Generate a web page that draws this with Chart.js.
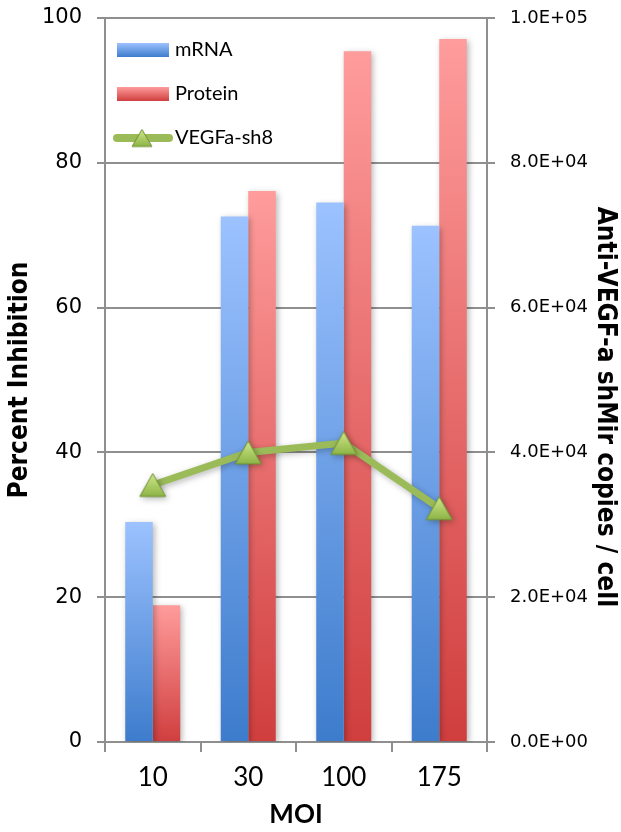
<!DOCTYPE html>
<html>
<head>
<meta charset="utf-8">
<script src="https://cdn.jsdelivr.net/npm/chart.js@4.4.1/dist/chart.umd.min.js"></script>
<style>
  html, body { margin: 0; padding: 0; background: #ffffff; }
  #wrap { width: 621px; height: 832px; }
</style>
</head>
<body>
<div id="wrap"><canvas id="c" width="621" height="832"></canvas></div>
<script>
// ---- data ----
const categories = ['10', '30', '100', '175'];
const mrnaValues = [30.4, 72.6, 74.5, 71.3];
const proteinValues = [18.9, 76.1, 95.4, 97.1];
const copiesValues = [35500, 40000, 41300, 32300];
const rightTickLabels = ['0.0E+00', '2.0E+04', '4.0E+04', '6.0E+04', '8.0E+04', '1.0E+05'];
const seriesNames = ['mRNA', 'Protein', 'VEGFa-sh8'];

const TITLE_FONT = "'Liberation Sans Narrow', 'DejaVu Sans Condensed', 'Liberation Sans', sans-serif";
const TEXT_FONT = "Lato, 'Open Sans', sans-serif";
const TICK_FONT = "'DejaVu Sans', sans-serif";
const GRID = '#8f8f8f';

// triangle marker image (centred in its bounding box)
function makeTriangle(w, h) {
  const cv = document.createElement('canvas');
  cv.width = w + 4; cv.height = h + 4;
  const g = cv.getContext('2d');
  const grad = g.createLinearGradient(0, 2, 0, h + 2);
  grad.addColorStop(0, '#cfe88a');
  grad.addColorStop(1, '#8db446');
  g.beginPath();
  g.moveTo(cv.width / 2, 2);
  g.lineTo(w + 2, h + 2);
  g.lineTo(2, h + 2);
  g.closePath();
  g.fillStyle = grad;
  g.fill();
  g.lineWidth = 1;
  g.strokeStyle = '#6f8f33';
  g.stroke();
  return cv;
}
const triImg = makeTriangle(26, 23);

function barGradient(top, bottom, context, values) {
  const chart = context.chart;
  const ys = chart.scales.y;
  if (!ys || context.dataIndex === undefined) return bottom;
  const v = values[context.dataIndex];
  const y0 = ys.getPixelForValue(v);
  const y1 = ys.getPixelForValue(0);
  if (!isFinite(y0) || !isFinite(y1) || y0 === y1) return bottom;
  const g = chart.ctx.createLinearGradient(0, y0, 0, y1);
  g.addColorStop(0, top);
  g.addColorStop(1, bottom);
  return g;
}

const shadowPlugin = {
  id: 'shadow',
  beforeDatasetDraw(chart, args) {
    const ctx = chart.ctx;
    ctx.save();
    ctx.shadowColor = 'rgba(0,0,0,0.28)';
    ctx.shadowBlur = 6;
    ctx.shadowOffsetX = 2;
    ctx.shadowOffsetY = 2;
  },
  afterDatasetDraw(chart) {
    chart.ctx.restore();
  }
};

const legendPlugin = {
  id: 'customLegend',
  afterDraw(chart) {
    const ctx = chart.ctx;
    ctx.save();
    ctx.font = '20px ' + TEXT_FONT;
    ctx.textBaseline = 'middle';
    ctx.fillStyle = '#000';
    const rows = [50, 94, 138];
    // bar items
    const bars = [['#9cc2ff', '#3d7ccc'], ['#ff9c9c', '#d03e3e']];
    for (let i = 0; i < 2; i++) {
      const y = rows[i];
      const g = ctx.createLinearGradient(0, y - 7, 0, y + 7);
      g.addColorStop(0, bars[i][0]);
      g.addColorStop(1, bars[i][1]);
      ctx.fillStyle = g;
      ctx.fillRect(117, y - 7, 52, 14);
      ctx.fillStyle = '#000';
      ctx.fillText(seriesNames[i], 175, y);
    }
    // line item
    const y = rows[2];
    ctx.strokeStyle = '#9bbb59';
    ctx.lineWidth = 8;
    ctx.lineCap = 'round';
    ctx.beginPath();
    ctx.moveTo(117, y);
    ctx.lineTo(169, y);
    ctx.stroke();
    const small = makeTriangle(20, 17);
    ctx.drawImage(small, 142 - small.width / 2, y - small.height / 2);
    ctx.fillStyle = '#000';
    ctx.fillText(seriesNames[2], 175, y);
    ctx.restore();
  }
};

const rightTitlePlugin = {
  id: 'rightTitle',
  afterDraw(chart) {
    const ctx = chart.ctx;
    const s = chart.scales.y1;
    ctx.save();
    ctx.translate(605, (s.top + s.bottom) / 2 + 27);
    ctx.rotate(Math.PI / 2);
    ctx.font = 'bold 26px ' + TITLE_FONT;
    ctx.textAlign = 'center';
    ctx.textBaseline = 'middle';
    ctx.fillStyle = '#000';
    ctx.fillText('Anti-VEGF-a shMir copies / cell', 0, 0);
    ctx.restore();
  }
};

new Chart(document.getElementById('c'), {
  type: 'bar',
  data: {
    labels: categories,
    datasets: [
      {
        type: 'line',
        label: seriesNames[2],
        data: copiesValues,
        yAxisID: 'y1',
        borderColor: '#9bbb59',
        borderWidth: 7,
        pointStyle: triImg,
        pointRadius: 13,
        pointHoverRadius: 13,
        tension: 0,
        order: 0
      },
      {
        label: seriesNames[0],
        data: mrnaValues,
        yAxisID: 'y',
        backgroundColor: (ctx) => barGradient('#9cc2ff', '#3d7ccc', ctx, mrnaValues),
        borderWidth: 0,
        order: 1
      },
      {
        label: seriesNames[1],
        data: proteinValues,
        yAxisID: 'y',
        backgroundColor: (ctx) => barGradient('#ff9c9c', '#d03e3e', ctx, proteinValues),
        borderWidth: 0,
        order: 1
      }
    ]
  },
  options: {
    responsive: false,
    animation: false,
    devicePixelRatio: 1,
    categoryPercentage: 0.576,
    barPercentage: 1.0,
    layout: { autoPadding: false, padding: { top: 18, left: 0, right: 0, bottom: 0 } },
    plugins: {
      legend: { display: false },
      tooltip: { enabled: false }
    },
    scales: {
      x: {
        offset: true,
        grid: {
          display: true,
          offset: true,
          drawOnChartArea: false,
          drawTicks: true,
          tickLength: 10,
          color: GRID,
          lineWidth: 2
        },
        border: { display: true, color: GRID, width: 2 },
        ticks: {
          color: '#000',
          font: { family: TEXT_FONT, size: 26 },
          padding: 10
        },
        title: {
          display: true,
          text: 'MOI',
          color: '#000',
          font: { family: TEXT_FONT, size: 26, weight: 'bold' },
          padding: { top: 0, bottom: 2 }
        },
        afterFit(scale) { scale.height = 90; scale.paddingLeft = 0; scale.paddingRight = 0; }
      },
      y: {
        position: 'left',
        min: 0,
        max: 100,
        ticks: {
          stepSize: 20,
          color: '#000',
          font: { family: TICK_FONT, size: 21 },
          padding: 15
        },
        grid: {
          color: GRID,
          lineWidth: 2,
          tickLength: 8
        },
        border: { display: true, color: GRID, width: 2 },
        title: {
          display: true,
          text: 'Percent Inhibition',
          color: '#000',
          font: { family: TITLE_FONT, size: 26, weight: 'bold' },
          padding: { top: 5, bottom: 0 }
        },
        afterFit(scale) { scale.width = 105; scale.paddingTop = 0; scale.paddingBottom = 0; }
      },
      y1: {
        position: 'right',
        min: 0,
        max: 100000,
        ticks: {
          stepSize: 20000,
          color: '#000',
          font: { family: TICK_FONT, size: 18 },
          padding: 15,
          callback: (v, i) => rightTickLabels[i]
        },
        grid: {
          drawOnChartArea: false,
          color: GRID,
          lineWidth: 2,
          tickLength: 8
        },
        border: { display: true, color: GRID, width: 2 },
        afterFit(scale) { scale.width = 134; scale.paddingTop = 0; scale.paddingBottom = 0; }
      }
    }
  },
  plugins: [shadowPlugin, legendPlugin, rightTitlePlugin]
});
</script>
</body>
</html>
